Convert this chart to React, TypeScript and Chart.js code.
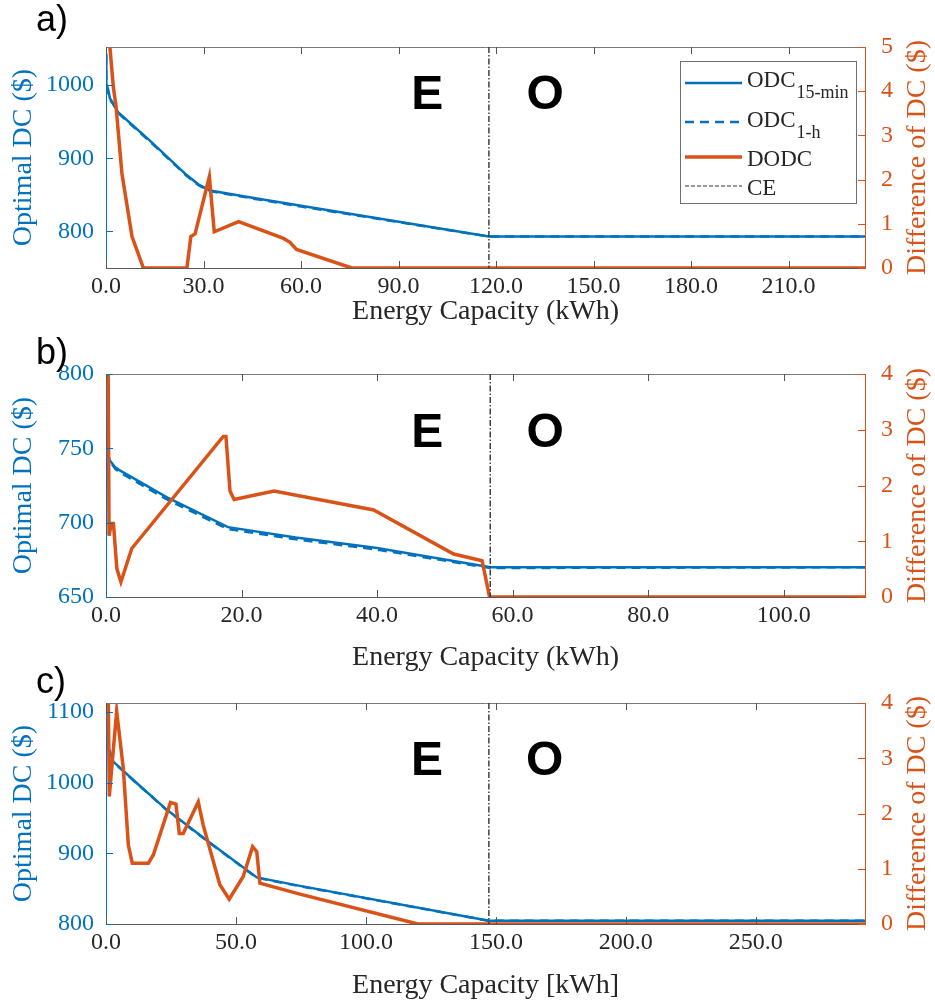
import React, { useEffect, useRef } from 'react';
import { Chart, registerables } from 'chart.js';
Chart.register(...registerables);

const BLUE = '#0072BD';
const ORANGE = '#D95319';
const DARK = '#262626';
const SERIF = '"Liberation Serif", "Times New Roman", Times, serif';
const SANS = '"Liberation Sans", Arial, Helvetica, sans-serif';

// ---------- Panel a data ----------
const aOdc15X = [0, 0.1, 0.7, 1.2, 2.2, 3.7, 13.5, 24.8, 28.5, 32, 45, 60, 117.8, 233.5];
const aOdc15Y = [1043, 1002, 993, 982, 975, 963, 924, 877, 864, 856, 846, 835, 793, 793];
const aOdc1hX = [0, 0.1, 0.7, 1.2, 2.2, 3.7, 13.5, 24.8, 28.5, 32, 45, 60, 117.8, 233.5];
const aOdc1hY = [1040, 999, 990, 980, 974, 962, 923, 876, 863, 855, 845, 834, 793, 793];
const aDodcX = [0.8, 1.2, 2.25, 3.1, 4.9, 8.0, 11.5, 24.9, 26.1, 27.4, 31.8, 33.3, 40.8, 54.6, 56.6, 58.6, 75.6, 233.5];
const aDodcY = [5.6, 5.0, 4.1, 3.65, 2.14, 0.71, 0, 0, 0.71, 0.77, 2.07, 0.82, 1.05, 0.67, 0.58, 0.42, 0, 0];
const aCE = 117.8;
const aXTicks = [0, 30, 60, 90, 120, 150, 180, 210];
const aYTicks = [800, 900, 1000];
const aY1Ticks = [0, 1, 2, 3, 4, 5];

// ---------- Panel b data ----------
const bOdc15X = [0, 0.1, 0.55, 1.4, 2.1, 9, 18, 28, 40, 56.7, 112];
const bOdc15Y = [789, 750, 742, 737, 735, 717, 697, 690, 683, 670, 670];
const bOdc1hX = [0, 0.1, 0.55, 1.4, 2.1, 9, 18, 28, 40, 56.7, 112];
const bOdc1hY = [789, 750, 741.5, 736, 733.8, 715.6, 695.7, 688.8, 681.9, 669.5, 670];
const bDodcX = [0.3, 0.45, 0.8, 1.1, 1.6, 2.2, 3.8, 17.3, 17.7, 18.3, 18.9, 24.8, 39.5, 51.3, 55.5, 56.6, 112];
const bDodcY = [4.6, 1.1, 1.32, 1.32, 0.51, 0.27, 0.87, 2.88, 2.88, 1.9, 1.75, 1.9, 1.56, 0.77, 0.65, 0, 0];
const bCE = 56.7;
const bXTicks = [0, 20, 40, 60, 80, 100];
const bYTicks = [650, 700, 750, 800];
const bY1Ticks = [0, 1, 2, 3, 4];

// ---------- Panel c data ----------
const cOdc15X = [0, 0.05, 2.8, 10.5, 23.3, 40, 58, 74.6, 147.3, 292];
const cOdc15Y = [1125, 1060, 1030, 1004, 962, 915, 866, 854, 804.5, 804.5];
const cOdc1hX = [0, 0.05, 2.8, 10.5, 23.3, 40, 58, 74.6, 147.3, 292];
const cOdc1hY = [1125, 1059, 1029.5, 1003.5, 961.5, 914.5, 865.5, 853.5, 804.5, 804.5];
const cDodcX = [0.75, 1.27, 4.1, 6.65, 8.6, 10.1, 16.3, 18.2, 24.8, 26.9, 28.2, 29.7, 35.5, 37.4, 40.6, 43.8, 47.4, 52.8, 56.4, 58, 59.2, 74.6, 120, 292];
const cDodcY = [4.6, 2.31, 3.85, 2.82, 1.43, 1.1, 1.1, 1.25, 2.2, 2.17, 1.64, 1.64, 2.21, 1.79, 1.25, 0.71, 0.45, 0.86, 1.4, 1.31, 0.74, 0.54, 0, 0];
const cCE = 147.3;
const cXTicks = [0, 50, 100, 150, 200, 250];
const cYTicks = [800, 900, 1000, 1100];
const cY1Ticks = [0, 1, 2, 3, 4];

const zip = (xs: number[], ys: number[]) => xs.map((x, i) => ({ x, y: ys[i] }));

type PanelDef = {
  label: string;
  xTitle: string;
  xMax: number; yMin: number; yMax: number; y1Max: number;
  xTicks: number[]; yTicks: number[]; y1Ticks: number[];
  s15: { x: number; y: number }[]; s1h: { x: number; y: number }[]; sd: { x: number; y: number }[];
  ce: number; eX: number; oX: number; textY: number;
  legend: boolean;
  // layout
  top: number; height: number; chartTop: number; chartBottom: number; xTitlePad: number; labelBaseline: number;
};

const PANELS: PanelDef[] = [
  {
    label: 'a)', xTitle: 'Energy Capacity (kWh)',
    xMax: 233.5, yMin: 750, yMax: 1052, y1Max: 5,
    xTicks: aXTicks, yTicks: aYTicks, y1Ticks: aY1Ticks,
    s15: zip(aOdc15X, aOdc15Y), s1h: zip(aOdc1hX, aOdc1hY), sd: zip(aDodcX, aDodcY),
    ce: aCE, eX: 98.8, oX: 135.1, textY: 985, legend: true,
    top: 0, height: 335, chartTop: 47, chartBottom: 268, xTitlePad: 6.5, labelBaseline: 31,
  },
  {
    label: 'b)', xTitle: 'Energy Capacity (kWh)',
    xMax: 112, yMin: 650, yMax: 800, y1Max: 4,
    xTicks: bXTicks, yTicks: bYTicks, y1Ticks: bY1Ticks,
    s15: zip(bOdc15X, bOdc15Y), s1h: zip(bOdc1hX, bOdc1hY), sd: zip(bDodcX, bDodcY),
    ce: bCE, eX: 47.4, oX: 64.8, textY: 760, legend: false,
    top: 330, height: 350, chartTop: 44, chartBottom: 267, xTitlePad: 5.5, labelBaseline: 34,
  },
  {
    label: 'c)', xTitle: 'Energy Capacity [kWh]',
    xMax: 292, yMin: 800, yMax: 1113, y1Max: 4,
    xTicks: cXTicks, yTicks: cYTicks, y1Ticks: cY1Ticks,
    s15: zip(cOdc15X, cOdc15Y), s1h: zip(cOdc1hX, cOdc1hY), sd: zip(cDodcX, cDodcY),
    ce: cCE, eX: 123.5, oX: 168.8, textY: 1030, legend: false,
    top: 655, height: 347, chartTop: 48, chartBottom: 269, xTitlePad: 0, labelBaseline: 38,
  },
];

function line(ctx: CanvasRenderingContext2D, x1: number, y1: number, x2: number, y2: number) {
  ctx.beginPath();
  ctx.moveTo(x1, y1);
  ctx.lineTo(x2, y2);
  ctx.stroke();
}

function decorPlugin(p: PanelDef) {
  return {
    id: 'decor',
    afterDatasetsDraw(chart: any) {
      const { ctx, chartArea } = chart;
      const { left, right, top, bottom } = chartArea;
      const xs = chart.scales.x, ys = chart.scales.y, y1s = chart.scales.y1;
      ctx.save();
      // top border
      ctx.strokeStyle = '#7a7a7a';
      ctx.lineWidth = 1;
      line(ctx, left, top + 0.5, right, top + 0.5);
      // x tick marks (bottom and top, inward)
      ctx.strokeStyle = '#555';
      p.xTicks.forEach((v) => {
        const px = Math.round(xs.getPixelForValue(v)) + 0.5;
        line(ctx, px, bottom, px, bottom - 7);
        line(ctx, px, top, px, top + 7);
      });
      // left ticks
      ctx.strokeStyle = BLUE;
      p.yTicks.forEach((v) => {
        const py = Math.round(ys.getPixelForValue(v)) + 0.5;
        line(ctx, left, py, left + 7, py);
      });
      // right ticks
      ctx.strokeStyle = ORANGE;
      p.y1Ticks.forEach((v) => {
        const py = Math.round(y1s.getPixelForValue(v)) + 0.5;
        line(ctx, right, py, right - 7, py);
      });
      // CE line
      ctx.strokeStyle = '#333';
      ctx.lineWidth = 1.4;
      ctx.setLineDash([6, 2, 1.5, 2]);
      const cx = xs.getPixelForValue(p.ce);
      line(ctx, cx, top, cx, bottom);
      ctx.setLineDash([]);
      // E / O labels
      ctx.fillStyle = '#000';
      ctx.font = `bold 48px ${SANS}`;
      ctx.textAlign = 'center';
      ctx.textBaseline = 'middle';
      ctx.fillText('E', xs.getPixelForValue(p.eX), ys.getPixelForValue(p.textY));
      ctx.fillText('O', xs.getPixelForValue(p.oX), ys.getPixelForValue(p.textY));
      // panel label
      ctx.font = `36px ${SANS}`;
      ctx.textAlign = 'left';
      ctx.textBaseline = 'alphabetic';
      ctx.fillText(p.label, 36, p.labelBaseline);
      // right axis title (reads bottom to top)
      ctx.save();
      ctx.translate(918, (top + bottom) / 2);
      ctx.rotate(-Math.PI / 2);
      ctx.fillStyle = ORANGE;
      ctx.font = `28px ${SERIF}`;
      ctx.textAlign = 'center';
      ctx.textBaseline = 'middle';
      ctx.fillText('Difference of DC ($)', 0, 0);
      ctx.restore();
      // legend
      if (p.legend) {
        const lx = 680, ly = 61, lw = 176, lh = 142;
        ctx.fillStyle = '#fff';
        ctx.fillRect(lx, ly, lw, lh);
        ctx.strokeStyle = '#6e6e6e';
        ctx.lineWidth = 1;
        ctx.strokeRect(lx + 0.5, ly + 0.5, lw, lh);
        const x0 = 685, x1 = 742, tx = 747;
        const drawSub = (main: string, sub: string, base: number, subBase: number) => {
          ctx.fillStyle = DARK;
          ctx.textAlign = 'left';
          ctx.textBaseline = 'alphabetic';
          ctx.font = `23px ${SERIF}`;
          ctx.fillText(main, tx, base);
          const w = ctx.measureText(main).width;
          if (sub) {
            ctx.font = `18px ${SERIF}`;
            ctx.fillText(sub, tx + w + 1, subBase);
          }
        };
        ctx.strokeStyle = BLUE;
        ctx.lineWidth = 2.5;
        line(ctx, x0, 83, x1, 83);
        drawSub('ODC', '15-min', 87, 98);
        ctx.setLineDash([9, 6]);
        line(ctx, x0, 122, x1, 122);
        ctx.setLineDash([]);
        drawSub('ODC', '1-h', 127, 138);
        ctx.strokeStyle = ORANGE;
        ctx.lineWidth = 3.5;
        line(ctx, x0, 157, x1, 157);
        drawSub('DODC', '', 166, 166);
        ctx.strokeStyle = '#333';
        ctx.lineWidth = 1;
        ctx.setLineDash([4, 2]);
        line(ctx, x0, 186, x1, 186);
        ctx.setLineDash([]);
        drawSub('CE', '', 195, 195);
      }
      ctx.restore();
    },
  };
}

function makeConfig(p: PanelDef): any {
  return {
    type: 'line',
    data: {
      datasets: [
        { label: 'DODC', data: p.sd, yAxisID: 'y1', borderColor: ORANGE, borderWidth: 3.5, pointRadius: 0, fill: false, tension: 0 },
        { label: 'ODC15', data: p.s15, yAxisID: 'y', borderColor: BLUE, borderWidth: 2.5, pointRadius: 0, fill: false, tension: 0 },
        { label: 'ODC1h', data: p.s1h, yAxisID: 'y', borderColor: BLUE, borderWidth: 2.5, borderDash: [9, 6], pointRadius: 0, fill: false, tension: 0 },
      ],
    },
    options: {
      responsive: false,
      animation: false,
      events: [],
      layout: { padding: { top: p.chartTop, left: 0, right: 0, bottom: 0 } },
      plugins: { legend: { display: false }, tooltip: { enabled: false } },
      scales: {
        x: {
          type: 'linear', position: 'bottom', min: 0, max: p.xMax,
          afterBuildTicks: (s: any) => { s.ticks = p.xTicks.map((value) => ({ value })); },
          afterFit: (s: any) => { s.height = p.height - p.chartBottom; },
          grid: { display: false, drawTicks: false },
          border: { display: true, color: '#5a5a5a', width: 1 },
          ticks: {
            color: DARK, padding: 4, maxRotation: 0, autoSkip: false,
            font: { family: SERIF, size: 24 },
            callback: (v: any) => Number(v).toFixed(1),
          },
          title: { display: true, text: p.xTitle, color: DARK, font: { family: SERIF, size: 28 }, padding: { top: 0, bottom: p.xTitlePad } },
        },
        y: {
          type: 'linear', position: 'left', min: p.yMin, max: p.yMax,
          afterBuildTicks: (s: any) => { s.ticks = p.yTicks.map((value) => ({ value })); },
          afterFit: (s: any) => { s.width = 106; },
          grid: { display: false, drawTicks: false },
          border: { display: true, color: BLUE, width: 1 },
          ticks: { color: BLUE, padding: 12, font: { family: SERIF, size: 24 }, callback: (v: any) => String(v) },
          title: { display: true, text: 'Optimal DC ($)', color: BLUE, font: { family: SERIF, size: 28 }, padding: { top: 7, bottom: 0 } },
        },
        y1: {
          type: 'linear', position: 'right', min: 0, max: p.y1Max,
          afterBuildTicks: (s: any) => { s.ticks = p.y1Ticks.map((value) => ({ value })); },
          afterFit: (s: any) => { s.width = 70; },
          grid: { display: false, drawTicks: false },
          border: { display: true, color: ORANGE, width: 1 },
          ticks: { color: ORANGE, padding: 16, font: { family: SERIF, size: 24 }, callback: (v: any) => String(v) },
          title: { display: false },
        },
      },
    },
    plugins: [decorPlugin(p)],
  };
}

function Panel({ def }: { def: PanelDef }) {
  const ref = useRef<HTMLCanvasElement>(null);
  useEffect(() => {
    const chart = new Chart(ref.current as HTMLCanvasElement, makeConfig(def));
    return () => chart.destroy();
  }, [def]);
  return (
    <canvas
      ref={ref}
      width={935}
      height={def.height}
      style={{ position: 'absolute', left: 0, top: def.top, width: 935, height: def.height }}
    />
  );
}

export default function App() {
  return (
    <div style={{ position: 'absolute', left: 0, top: 0, width: 935, height: 1002, background: '#fff', overflow: 'hidden' }}>
      {PANELS.map((p) => (
        <Panel key={p.label} def={p} />
      ))}
    </div>
  );
}
